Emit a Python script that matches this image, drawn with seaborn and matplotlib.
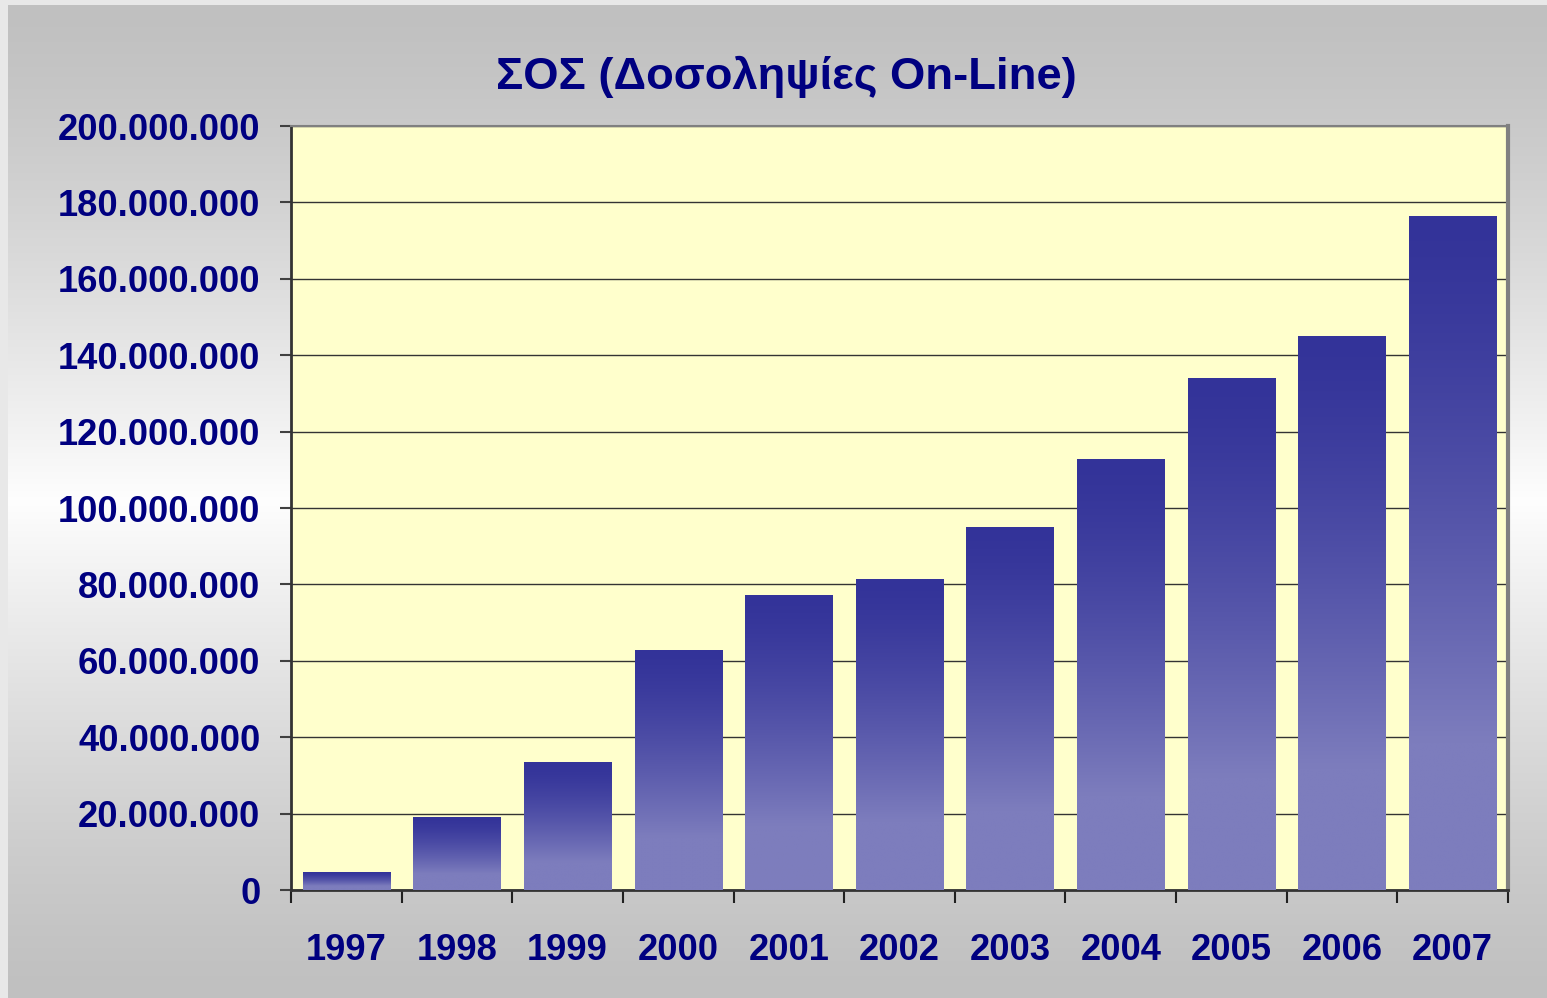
import numpy as np
import pandas as pd
import seaborn as sns
import matplotlib.pyplot as plt
from matplotlib.colors import to_rgb
from matplotlib.ticker import FuncFormatter

# data
years = ['1997', '1998', '1999', '2000', '2001', '2002',
         '2003', '2004', '2005', '2006', '2007']
transactions = [4.5e6, 19.1e6, 33.5e6, 62.6e6, 77.2e6, 81.4e6,
                95.0e6, 112.8e6, 134.0e6, 144.8e6, 176.2e6]
y_ticks = np.arange(0, 200e6 + 1, 20e6)
title = 'ΣΟΣ (Δοσοληψίες On-Line)'

navy = '#000080'
bar_top = np.array(to_rgb('#333399'))
bar_bottom = np.array(to_rgb('#7D7DBD'))
plot_bg = '#FFFFCC'

plt.rcParams['font.family'] = ['Liberation Sans', 'DejaVu Sans']
plt.rcParams['font.weight'] = 'bold'

W, H = 1547, 998
fig = plt.figure(figsize=(W / 100, H / 100), dpi=100, facecolor='#E8E8E8')

# grey -> white -> grey background of the chart area
bg = fig.add_axes([8 / W, 0, 1 - 8 / W, 1 - 5 / H], zorder=0)
rows = np.linspace(0, 1, 400)
g = 0.753 + (0.995 - 0.753) * np.clip(1 - np.abs(rows - 0.5) / 0.5, 0, 1) ** 1.3
bg.imshow(np.repeat(g[:, None, None], 3, axis=2), aspect='auto',
          extent=[0, 1, 0, 1], origin='upper')
bg.axis('off')

# plot area
ax = fig.add_axes([291 / W, 1 - 890 / H, (1508 - 291) / W, (890 - 126) / H], zorder=1)
ax.set_facecolor(plot_bg)

df = pd.DataFrame({'year': years, 'transactions': transactions})
sns.barplot(data=df, x='year', y='transactions', ax=ax, width=0.79,
            color='#333399', saturation=1, zorder=3)

# replace flat bars with a vertical gradient (dark top, light lower part)
t = np.linspace(0, 1, 300)
mix = np.clip(t / 0.78, 0, 1) ** 1.4
grad = bar_top[None, :] + (bar_bottom - bar_top)[None, :] * mix[:, None]
grad = grad[:, None, :]
for p in list(ax.patches):
    x0, w, h = p.get_x(), p.get_width(), p.get_height()
    ax.imshow(grad, extent=(x0, x0 + w, 0, h), aspect='auto',
              origin='upper', zorder=3, interpolation='bilinear')
    p.set_visible(False)

ax.set_xlim(-0.48, len(years) - 0.5)
ax.set_ylim(0, 200e6)
ax.set_aspect('auto')

ax.set_xlabel('')
ax.set_ylabel('')
ax.set_yticks(y_ticks)
ax.yaxis.set_major_formatter(FuncFormatter(lambda v, _: f'{int(v):,}'.replace(',', '.')))
ax.set_axisbelow(True)
ax.yaxis.grid(True, color='#333333', linewidth=1.0)
ax.xaxis.grid(False)

ax.tick_params(axis='y', length=8, width=1.5, color='#404040', pad=14,
               labelsize=26.2, labelcolor=navy)
ax.tick_params(axis='x', which='major', length=0, pad=31,
               labelsize=26.2, labelcolor=navy)
ax.set_xticks(np.arange(-0.5, len(years), 1), minor=True)
ax.tick_params(axis='x', which='minor', length=9.5, width=1.5, color='#202020')

for side in ['left', 'bottom']:
    ax.spines[side].set_color('#333333')
    ax.spines[side].set_linewidth(2)
ax.spines['right'].set_color('#808080')
ax.spines['right'].set_linewidth(3)
ax.spines['top'].set_color('#808080')
ax.spines['top'].set_linewidth(1.5)

fig.text(786 / W, 1 - 77 / H, title, ha='center', va='center',
         fontsize=32.7, fontweight='bold', color=navy)

fig.savefig('out.png', dpi=100, facecolor=fig.get_facecolor())
